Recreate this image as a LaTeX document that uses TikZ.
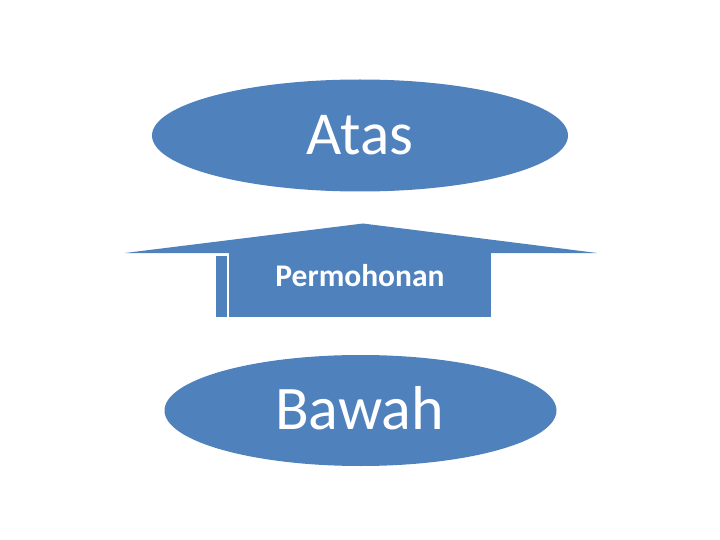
\documentclass[tikz,border=0pt]{standalone}
\usepackage{fontspec}
\setmainfont{Carlito}
\usetikzlibrary{shapes.geometric}
\definecolor{officeblue}{HTML}{4F81BD}
\tikzset{
  blob/.style={ellipse, fill=officeblue, draw=none, inner sep=0pt, text=white},
  part/.style={fill=officeblue, draw=none}
}
\begin{document}
\begin{tikzpicture}[x=1pt,y=-1pt]
\useasboundingbox (0,0) rectangle (720,540);
\node[blob, minimum width=416pt, minimum height=112pt] (atas) at (360,135.5) {};
\node[text=white, inner sep=0pt, font=\fontsize{61}{61}\selectfont] (atastext) at (atas.center) {Atas};
\node[blob, minimum width=392pt, minimum height=111pt] (bawah) at (360.5,410.5) {};
\node[text=white, inner sep=0pt, font=\fontsize{62}{62}\selectfont] (bawahtext) at (359.5,408) {Bawah};
\fill[part] (125,253) -- (363,223.5) -- (597,253) -- cycle;
\fill[part] (229,253) rectangle (491,317);
\fill[part] (216,256) rectangle (227,317);
\node[text=white, inner sep=0pt, font=\fontsize{31.5}{31.5}\bfseries\selectfont] (perm) at (360,275.5) {Permohonan};
\end{tikzpicture}
\end{document}
